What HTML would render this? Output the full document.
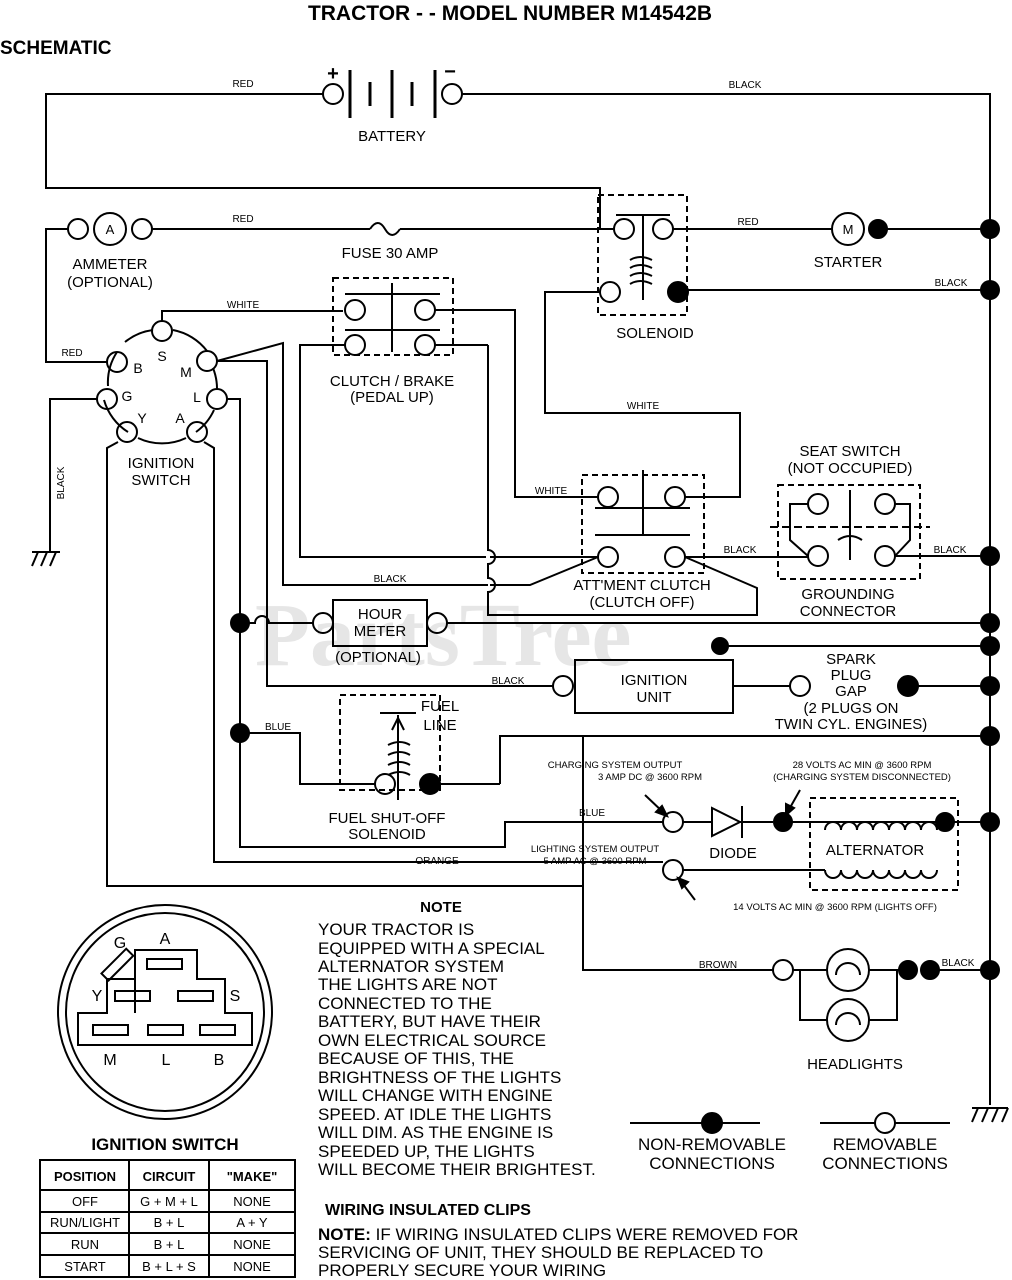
<!DOCTYPE html>
<html><head><meta charset="utf-8"><style>
html,body{margin:0;padding:0;background:#fff;}
svg{display:block;font-family:"Liberation Sans",Arial,sans-serif;}
text{fill:#000;}
</style></head><body>
<svg width="1012" height="1280" viewBox="0 0 1012 1280" xmlns="http://www.w3.org/2000/svg">
<text x="255" y="665" font-size="90" font-weight="bold" style="fill:#e6e6e6" font-family="Liberation Serif">PartsTree</text>
<g fill="none" stroke="#000" stroke-width="2">
<!-- battery -->
<circle cx="333" cy="94" r="10"/><circle cx="452" cy="94" r="10"/>
<line x1="350" y1="70" x2="350" y2="118" stroke-width="3"/><line x1="370" y1="82" x2="370" y2="106" stroke-width="3"/>
<line x1="392" y1="70" x2="392" y2="118" stroke-width="3"/><line x1="412" y1="82" x2="412" y2="106" stroke-width="3"/>
<line x1="435" y1="70" x2="435" y2="118" stroke-width="3"/>
<polyline points="323,94 46,94 46,188 600,188 600,229 614,229"/>
<polyline points="462,94 990,94 990,1105"/>
<line x1="972" y1="1108" x2="1008" y2="1108"/>
<line x1="978" y1="1108" x2="972" y2="1122"/><line x1="988" y1="1108" x2="982" y2="1122"/><line x1="998" y1="1108" x2="992" y2="1122"/><line x1="1008" y1="1108" x2="1002" y2="1122"/>
<!-- ammeter -->
<circle cx="78" cy="229" r="10"/><circle cx="110" cy="229" r="16"/><circle cx="142" cy="229" r="10"/>
<polyline points="152,229 370,229"/><path d="M370,229 q8,-12 15,0 q7,12 15,0"/><line x1="400" y1="229" x2="614" y2="229"/>
<polyline points="68,229 46,229 46,362 107,362"/>
<!-- solenoid -->
<rect x="598" y="195" width="89" height="120" stroke-dasharray="6,4"/>
<circle cx="624" cy="229" r="10"/><circle cx="663" cy="229" r="10"/><circle cx="610" cy="292" r="10"/>
<circle cx="678" cy="292" r="10" fill="#000"/>
<line x1="616" y1="215" x2="670" y2="215"/><line x1="643" y1="215" x2="643" y2="300"/>
<path d="M630,260 q10,-6 22,0 M630,268 q10,-6 22,0 M630,276 q10,-6 22,0 M630,284 q10,-6 22,0"/>
<line x1="673" y1="229" x2="832" y2="229"/>
<circle cx="848" cy="229" r="16"/><circle cx="878" cy="229" r="9" fill="#000"/>
<line x1="887" y1="229" x2="990" y2="229"/>
<line x1="688" y1="290" x2="990" y2="290"/>
<polyline points="600,292 545,292 545,413 740,413 740,497 685,497"/>
<!-- ignition switch -->
<path d="M128,432 A56,56 0 0 1 104,400 M108,386 A56,56 0 0 1 117,352 M125,342 A56,56 0 0 1 153,330 M173,330 A56,56 0 0 1 207,351 M213,368 A56,56 0 0 1 217,390 M214,410 A56,56 0 0 1 196,432 M138,438 A56,56 0 0 0 186,438"/>
<circle cx="162" cy="331" r="10"/><circle cx="117" cy="362" r="10"/><circle cx="207" cy="361" r="10"/>
<circle cx="107" cy="399" r="10"/><circle cx="217" cy="399" r="10"/><circle cx="127" cy="432" r="10"/><circle cx="197" cy="432" r="10"/>
<polyline points="162,321 162,311 343,311"/>
<polyline points="97,399 50,399 50,552"/>
<line x1="32" y1="552" x2="60" y2="552"/><line x1="38" y1="552" x2="32" y2="566"/><line x1="47" y1="552" x2="41" y2="566"/><line x1="56" y1="552" x2="50" y2="566"/>
<polyline points="118,442 107,448 107,886 583,886"/>
<polyline points="204,442 214,448 214,862 663,862"/>
<polyline points="227,399 240,399 240,847 505,847 505,822 663,822"/>
<polyline points="217,361 283,343 283,585 488,585"/>
<polyline points="217,361 267,361 267,686 553,686"/>
<!-- clutch brake -->
<rect x="333" y="278" width="120" height="77" stroke-dasharray="6,4"/>
<circle cx="355" cy="310" r="10"/><circle cx="425" cy="310" r="10"/><circle cx="355" cy="345" r="10"/><circle cx="425" cy="345" r="10"/>
<line x1="345" y1="294" x2="440" y2="294"/><line x1="392" y1="283" x2="392" y2="352"/><line x1="345" y1="330" x2="440" y2="330"/>
<polyline points="435,310 515,310 515,497 598,497"/>
<polyline points="345,345 300,345 300,557 486,557"/>
<path d="M488,345 L488,550 a7,7 0 0 1 0,14 L488,578 a7,7 0 0 1 0,14 L488,615 757,615 757,588 685,557"/>
<polyline points="435,345 488,345"/>
<polyline points="490,557 598,557"/><polyline points="490,585 530,585 598,557"/>
<!-- attment clutch -->
<rect x="582" y="475" width="122" height="98" stroke-dasharray="6,4"/>
<circle cx="608" cy="497" r="10"/><circle cx="675" cy="497" r="10"/><circle cx="608" cy="557" r="10"/><circle cx="675" cy="557" r="10"/>
<line x1="595" y1="508" x2="690" y2="508"/><line x1="643" y1="470" x2="643" y2="535"/><line x1="595" y1="535" x2="690" y2="535"/>
<line x1="685" y1="557" x2="808" y2="557"/>
<!-- seat switch -->
<rect x="778" y="485" width="142" height="94" stroke-dasharray="6,4"/>
<circle cx="818" cy="504" r="10"/><circle cx="885" cy="504" r="10"/><circle cx="818" cy="556" r="10"/><circle cx="885" cy="556" r="10"/>
<polyline points="808,504 790,504 790,540 808,556"/><polyline points="895,504 910,504 910,540 895,556"/>
<line x1="770" y1="527" x2="930" y2="527" stroke-dasharray="8,4"/><line x1="850" y1="490" x2="850" y2="560"/>
<path d="M838,540 q12,-8 24,0"/>
<line x1="895" y1="556" x2="990" y2="556"/>
<!-- hour meter -->
<rect x="333" y="600" width="94" height="46"/>
<circle cx="323" cy="623" r="10"/><circle cx="437" cy="623" r="10"/>
<path d="M240,623 L255,623 a7,7 0 0 1 14,0 L313,623"/>
<line x1="447" y1="623" x2="990" y2="623"/>
<line x1="720" y1="646" x2="990" y2="646"/>
<!-- ignition unit -->
<rect x="575" y="660" width="158" height="53"/>
<circle cx="563" cy="686" r="10"/>
<line x1="733" y1="686" x2="790" y2="686"/><circle cx="800" cy="686" r="10"/>
<circle cx="908" cy="686" r="10" fill="#000"/><line x1="918" y1="686" x2="990" y2="686"/>
<!-- fuel solenoid -->
<rect x="340" y="695" width="100" height="95" stroke-dasharray="6,4"/>
<polyline points="240,733 300,733 300,784 375,784"/>
<circle cx="385" cy="784" r="10"/><circle cx="430" cy="784" r="10" fill="#000"/>
<line x1="440" y1="784" x2="500" y2="784"/><polyline points="500,784 500,736 990,736"/>
<line x1="398" y1="715" x2="398" y2="800"/><line x1="380" y1="713" x2="416" y2="713"/>
<path d="M392,730 L398,718 L404,730"/>
<path d="M388,745 q12,-6 22,0 M388,755 q12,-6 22,0 M388,765 q12,-6 22,0 M388,775 q12,-6 22,0"/>
<!-- charging -->
<circle cx="673" cy="822" r="10"/>
<line x1="683" y1="822" x2="773" y2="822"/>
<polygon points="712,808 712,836 740,822" fill="#fff"/><line x1="742" y1="806" x2="742" y2="838"/>
<circle cx="783" cy="822" r="9" fill="#000"/><circle cx="945" cy="822" r="9" fill="#000"/>
<line x1="792" y1="822" x2="990" y2="822"/>
<rect x="810" y="798" width="148" height="92" stroke-dasharray="6,4"/>
<path d="M825,830 a8,8 0 0 1 16,0 a8,8 0 0 1 16,0 a8,8 0 0 1 16,0 a8,8 0 0 1 16,0 a8,8 0 0 1 16,0 a8,8 0 0 1 16,0 a8,8 0 0 1 16,0"/>
<path d="M825,870 a8,8 0 0 0 16,0 a8,8 0 0 0 16,0 a8,8 0 0 0 16,0 a8,8 0 0 0 16,0 a8,8 0 0 0 16,0 a8,8 0 0 0 16,0 a8,8 0 0 0 16,0"/>
<circle cx="673" cy="870" r="10"/>
<line x1="683" y1="870" x2="825" y2="870"/>
<line x1="645" y1="795" x2="665" y2="814"/><polygon points="667,816 656,812 662,806" fill="#000"/>
<line x1="800" y1="790" x2="787" y2="813"/><polygon points="786,815 786,804 794,808" fill="#000"/>
<line x1="695" y1="900" x2="680" y2="880"/><polygon points="678,878 688,882 682,888" fill="#000"/>
<!-- brown / headlights -->
<polyline points="583,736 583,970 773,970"/>
<circle cx="783" cy="970" r="10"/><circle cx="908" cy="970" r="9" fill="#000"/><circle cx="930" cy="970" r="9" fill="#000"/>
<line x1="939" y1="970" x2="990" y2="970"/>
<circle cx="848" cy="970" r="21"/><circle cx="848" cy="1020" r="21"/>
<path d="M836,975 a12,12 0 0 1 24,0 M836,1025 a12,12 0 0 1 24,0"/>
<line x1="793" y1="970" x2="827" y2="970"/><line x1="869" y1="970" x2="899" y2="970"/>
<polyline points="800,970 800,1020 827,1020"/><polyline points="897,970 897,1020 869,1020"/>
<g fill="#000" stroke="none">
<circle cx="990" cy="229" r="10"/><circle cx="990" cy="290" r="10"/><circle cx="990" cy="556" r="10"/><circle cx="990" cy="623" r="10"/><circle cx="990" cy="646" r="10"/><circle cx="990" cy="686" r="10"/><circle cx="990" cy="736" r="10"/><circle cx="990" cy="822" r="10"/><circle cx="990" cy="970" r="10"/>
<circle cx="240" cy="623" r="10"/><circle cx="240" cy="733" r="10"/><circle cx="720" cy="646" r="9"/>
</g>
<!-- legend -->
<line x1="630" y1="1123" x2="760" y2="1123"/><circle cx="712" cy="1123" r="10" fill="#000"/>
<line x1="820" y1="1123" x2="950" y2="1123"/><circle cx="885" cy="1123" r="10" fill="#fff"/>
<!-- ignition switch drawing -->
<circle cx="165" cy="1012" r="107"/><circle cx="165" cy="1012" r="99"/>
<polyline points="135,1013 135,950 197,950 197,979 225,979 225,1013 252,1013 252,1045 78,1045 78,1013 107,1013 107,979 135,979 135,1013" fill="none"/>
<rect x="147" y="959" width="35" height="10"/><rect x="115" y="991" width="35" height="10"/><rect x="178" y="991" width="35" height="10"/>
<rect x="93" y="1025" width="35" height="10"/><rect x="148" y="1025" width="35" height="10"/><rect x="200" y="1025" width="35" height="10"/>
<rect x="100" y="960" width="35" height="10" transform="rotate(-45 117 965)"/>
<!-- table -->
<rect x="40" y="1160" width="255" height="117"/>
<line x1="40" y1="1190" x2="295" y2="1190"/><line x1="40" y1="1212" x2="295" y2="1212"/><line x1="40" y1="1233" x2="295" y2="1233"/><line x1="40" y1="1255" x2="295" y2="1255"/>
<line x1="129" y1="1160" x2="129" y2="1277"/><line x1="209" y1="1160" x2="209" y2="1277"/>
</g>
<g font-size="15">
<text x="510" y="20" font-size="21" font-weight="bold" text-anchor="middle">TRACTOR - - MODEL NUMBER M14542B</text>
<text x="0" y="54" font-size="19" font-weight="bold">SCHEMATIC</text>
<text x="333" y="80" font-size="20" font-weight="bold" text-anchor="middle">+</text>
<text x="450" y="78" font-size="20" font-weight="bold" text-anchor="middle">−</text>
<text x="392" y="141" text-anchor="middle">BATTERY</text>
<text x="243" y="87" font-size="10" text-anchor="middle">RED</text>
<text x="745" y="88" font-size="10" text-anchor="middle">BLACK</text>
<text x="243" y="222" font-size="10" text-anchor="middle">RED</text>
<text x="748" y="225" font-size="10" text-anchor="middle">RED</text>
<text x="951" y="286" font-size="10" text-anchor="middle">BLACK</text>
<text x="110" y="234" font-size="13" text-anchor="middle">A</text>
<text x="848" y="234" font-size="13" text-anchor="middle">M</text>
<text x="390" y="258" text-anchor="middle">FUSE 30 AMP</text>
<text x="110" y="269" text-anchor="middle">AMMETER</text>
<text x="110" y="287" text-anchor="middle">(OPTIONAL)</text>
<text x="848" y="267" text-anchor="middle">STARTER</text>
<text x="655" y="338" text-anchor="middle">SOLENOID</text>
<text x="243" y="308" font-size="10" text-anchor="middle">WHITE</text>
<text x="72" y="356" font-size="10" text-anchor="middle">RED</text>
<text x="643" y="409" font-size="10" text-anchor="middle">WHITE</text>
<text x="551" y="494" font-size="10" text-anchor="middle">WHITE</text>
<text x="740" y="553" font-size="10" text-anchor="middle">BLACK</text>
<text x="950" y="553" font-size="10" text-anchor="middle">BLACK</text>
<text x="390" y="582" font-size="10" text-anchor="middle">BLACK</text>
<text x="508" y="684" font-size="10" text-anchor="middle">BLACK</text>
<text x="278" y="730" font-size="10" text-anchor="middle">BLUE</text>
<text x="592" y="816" font-size="10" text-anchor="middle">BLUE</text>
<text x="437" y="864" font-size="10" text-anchor="middle">ORANGE</text>
<text x="718" y="968" font-size="10" text-anchor="middle">BROWN</text>
<text x="958" y="966" font-size="10" text-anchor="middle">BLACK</text>
<text transform="translate(64,483) rotate(-90)" font-size="10" text-anchor="middle">BLACK</text>
<g font-size="14"><text x="162" y="361" text-anchor="middle">S</text><text x="138" y="373" text-anchor="middle">B</text><text x="186" y="377" text-anchor="middle">M</text>
<text x="127" y="401" text-anchor="middle">G</text><text x="197" y="402" text-anchor="middle">L</text><text x="142" y="423" text-anchor="middle">Y</text><text x="180" y="423" text-anchor="middle">A</text></g>
<text x="161" y="468" text-anchor="middle">IGNITION</text><text x="161" y="485" text-anchor="middle">SWITCH</text>
<text x="392" y="386" text-anchor="middle">CLUTCH / BRAKE</text><text x="392" y="402" text-anchor="middle">(PEDAL UP)</text>
<text x="850" y="456" text-anchor="middle">SEAT SWITCH</text><text x="850" y="473" text-anchor="middle">(NOT OCCUPIED)</text>
<text x="642" y="590" text-anchor="middle">ATT'MENT CLUTCH</text><text x="642" y="607" text-anchor="middle">(CLUTCH OFF)</text>
<text x="848" y="599" text-anchor="middle">GROUNDING</text><text x="848" y="616" text-anchor="middle">CONNECTOR</text>
<text x="380" y="619" text-anchor="middle">HOUR</text><text x="380" y="636" text-anchor="middle">METER</text>
<text x="378" y="662" text-anchor="middle">(OPTIONAL)</text>
<text x="654" y="685" text-anchor="middle">IGNITION</text><text x="654" y="702" text-anchor="middle">UNIT</text>
<text x="851" y="664" text-anchor="middle">SPARK</text><text x="851" y="680" text-anchor="middle">PLUG</text><text x="851" y="696" text-anchor="middle">GAP</text>
<text x="851" y="713" text-anchor="middle">(2 PLUGS ON</text><text x="851" y="729" text-anchor="middle">TWIN CYL. ENGINES)</text>
<text x="440" y="711" text-anchor="middle">FUEL</text><text x="440" y="730" text-anchor="middle">LINE</text>
<text x="387" y="823" text-anchor="middle">FUEL SHUT-OFF</text><text x="387" y="839" text-anchor="middle">SOLENOID</text>
<g font-size="9.5"><text x="615" y="768" text-anchor="middle">CHARGING SYSTEM OUTPUT</text><text x="598" y="780">3 AMP DC @ 3600 RPM</text>
<text x="862" y="768" text-anchor="middle">28 VOLTS AC MIN @ 3600 RPM</text><text x="862" y="780" text-anchor="middle">(CHARGING SYSTEM DISCONNECTED)</text>
<text x="595" y="852" text-anchor="middle">LIGHTING SYSTEM OUTPUT</text><text x="595" y="864" text-anchor="middle">5 AMP AC @ 3600 RPM</text>
<text x="835" y="910" text-anchor="middle">14 VOLTS AC MIN @ 3600 RPM (LIGHTS OFF)</text></g>
<text x="733" y="858" text-anchor="middle">DIODE</text><text x="875" y="855" text-anchor="middle">ALTERNATOR</text>
<text x="855" y="1069" text-anchor="middle">HEADLIGHTS</text>
<text x="441" y="912" font-weight="bold" text-anchor="middle">NOTE</text>
<g font-size="17"><text x="318" y="935">YOUR TRACTOR IS</text><text x="318" y="954">EQUIPPED WITH A SPECIAL</text><text x="318" y="972">ALTERNATOR SYSTEM</text>
<text x="318" y="990">THE LIGHTS ARE NOT</text><text x="318" y="1009">CONNECTED TO THE</text><text x="318" y="1027">BATTERY, BUT HAVE THEIR</text>
<text x="318" y="1046">OWN ELECTRICAL SOURCE</text><text x="318" y="1064">BECAUSE OF THIS, THE</text><text x="318" y="1083">BRIGHTNESS OF THE LIGHTS</text>
<text x="318" y="1101">WILL CHANGE WITH ENGINE</text><text x="318" y="1120">SPEED.  AT IDLE THE LIGHTS</text><text x="318" y="1138">WILL DIM.  AS THE ENGINE IS</text>
<text x="318" y="1157">SPEEDED UP, THE LIGHTS</text><text x="318" y="1175">WILL BECOME THEIR BRIGHTEST.</text></g>
<g font-size="17"><text x="712" y="1150" text-anchor="middle">NON-REMOVABLE</text><text x="712" y="1169" text-anchor="middle">CONNECTIONS</text>
<text x="885" y="1150" text-anchor="middle">REMOVABLE</text><text x="885" y="1169" text-anchor="middle">CONNECTIONS</text></g>
<text x="325" y="1215" font-size="16" font-weight="bold">WIRING INSULATED CLIPS</text>
<g font-size="17"><text x="318" y="1240"><tspan font-weight="bold">NOTE:</tspan> IF WIRING INSULATED CLIPS WERE REMOVED FOR</text>
<text x="318" y="1258">SERVICING OF UNIT, THEY SHOULD BE REPLACED TO</text><text x="318" y="1276">PROPERLY SECURE YOUR WIRING</text></g>
<g font-size="16"><text x="165" y="944" text-anchor="middle">A</text><text x="120" y="948" text-anchor="middle">G</text><text x="97" y="1001" text-anchor="middle">Y</text><text x="235" y="1001" text-anchor="middle">S</text>
<text x="110" y="1065" text-anchor="middle">M</text><text x="166" y="1065" text-anchor="middle">L</text><text x="219" y="1065" text-anchor="middle">B</text></g>
<text x="165" y="1150" font-size="17" font-weight="bold" text-anchor="middle">IGNITION SWITCH</text>
<g font-size="13" text-anchor="middle"><text x="85" y="1181" font-weight="bold">POSITION</text><text x="169" y="1181" font-weight="bold">CIRCUIT</text><text x="252" y="1181" font-weight="bold">"MAKE"</text>
<text x="85" y="1206">OFF</text><text x="169" y="1206">G + M + L</text><text x="252" y="1206">NONE</text>
<text x="85" y="1227">RUN/LIGHT</text><text x="169" y="1227">B + L</text><text x="252" y="1227">A + Y</text>
<text x="85" y="1249">RUN</text><text x="169" y="1249">B + L</text><text x="252" y="1249">NONE</text>
<text x="85" y="1271">START</text><text x="169" y="1271">B + L + S</text><text x="252" y="1271">NONE</text></g>
</g>
</svg>
</body></html>
